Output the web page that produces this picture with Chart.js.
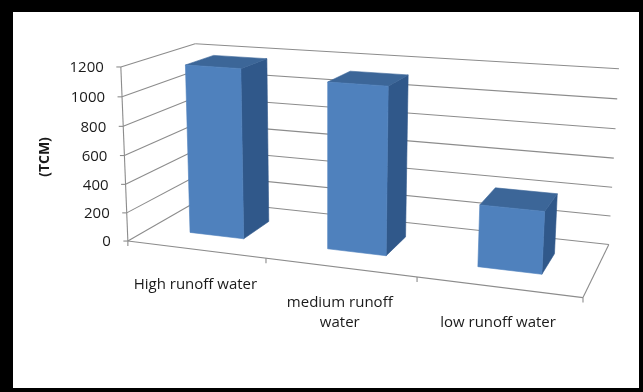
<!DOCTYPE html>
<html>
<head>
<meta charset="utf-8">
<script src="https://cdn.jsdelivr.net/npm/chart.js@4/dist/chart.umd.min.js"></script>
<style>
  html, body { margin: 0; padding: 0; background: #000; overflow: hidden; }
  #sheet { position: absolute; left: 13px; top: 12px; width: 626px; height: 376px; background: #fff; }
  #c { position: absolute; left: 0; top: 0; }
</style>
</head>
<body>
<div id="sheet"></div>
<canvas id="c" width="643" height="392"></canvas>
<script>
// Runoff volumes per runoff class (TCM)
const categories = [["High runoff water"], ["medium runoff", "water"], ["low runoff water"]];
const runoffTCM = [1180, 1130, 410];
const valueTicks = [0, 200, 400, 600, 800, 1000, 1200];
const axisTitle = "(TCM)";

// Perspective box: plot-box corners [U, W, V] (category, depth, value, each 0..1) -> screen px
const box = {
  anchors: [
    [[0, 0, 0], [128, 241]], [[0, 0, 1], [121, 66.5]], [[0, 1, 1], [195, 44]],
    [[1, 1, 1], [619, 69]], [[1, 1, 0], [609, 244]], [[1, 0, 0], [583, 297]],
    [[1 / 3, 0, 0], [266, 258]], [[2 / 3, 0, 0], [416.7, 278.3]]
  ],
  barDepth: [0.3, 0.7],
  barWidth: 0.4
};

// Least-squares camera matrix (DLT) from the anchor pairs
function solveCamera(pairs) {
  const n = 11;
  const M = Array.from({ length: n }, () => new Array(n + 1).fill(0));
  const add = (row, rhs) => {
    for (let i = 0; i < n; i++) {
      for (let j = 0; j < n; j++) M[i][j] += row[i] * row[j];
      M[i][n] += row[i] * rhs;
    }
  };
  for (const [[U, W, V], [x, y]] of pairs) {
    add([U, W, V, 1, 0, 0, 0, 0, -x * U, -x * W, -x * V], x);
    add([0, 0, 0, 0, U, W, V, 1, -y * U, -y * W, -y * V], y);
  }
  for (let c = 0; c < n; c++) {
    let p = c;
    for (let r = c + 1; r < n; r++) if (Math.abs(M[r][c]) > Math.abs(M[p][c])) p = r;
    [M[c], M[p]] = [M[p], M[c]];
    for (let r = 0; r < n; r++) {
      if (r === c) continue;
      const f = M[r][c] / M[c][c];
      for (let k = c; k <= n; k++) M[r][k] -= f * M[c][k];
    }
  }
  return M.map((row, i) => row[n] / row[i]);
}
const cam = solveCamera(box.anchors);
function proj(U, W, V) {
  const d = cam[8] * U + cam[9] * W + cam[10] * V + 1;
  return [
    (cam[0] * U + cam[1] * W + cam[2] * V + cam[3]) / d,
    (cam[4] * U + cam[5] * W + cam[6] * V + cam[7]) / d
  ];
}

function line(ctx, a, b) {
  ctx.beginPath();
  ctx.moveTo(a[0], a[1]);
  ctx.lineTo(b[0], b[1]);
  ctx.stroke();
}
function poly(ctx, pts, fill) {
  ctx.beginPath();
  pts.forEach((p, i) => (i ? ctx.lineTo(p[0], p[1]) : ctx.moveTo(p[0], p[1])));
  ctx.closePath();
  ctx.fillStyle = fill;
  ctx.fill();
  ctx.strokeStyle = fill;
  ctx.lineWidth = 0.6;
  ctx.stroke();
}

const FONT = '"Open Sans", "DejaVu Sans", sans-serif';

const perspective3d = {
  id: 'perspective3d',
  beforeDatasetsDraw(chart) {
    const { ctx, chartArea: a, scales: { y } } = chart;
    const vOf = (val) => (a.bottom - y.getPixelForValue(val)) / (a.bottom - a.top);
    ctx.save();
    ctx.strokeStyle = '#8c8c8c';
    ctx.lineWidth = 1.1;
    // walls: left side and back gridlines
    for (const t of valueTicks) {
      const V = vOf(t);
      line(ctx, proj(0, 0, V), proj(0, 1, V));
      line(ctx, proj(0, 1, V), proj(1, 1, V));
    }
    // floor front (category axis) and right edge
    line(ctx, proj(0, 0, 0), proj(1, 0, 0));
    line(ctx, proj(1, 0, 0), proj(1, 1, 0));
    // value axis with tick marks
    line(ctx, proj(0, 0, 0), proj(0, 0, 1));
    for (const t of valueTicks) {
      const p = proj(0, 0, vOf(t));
      line(ctx, [p[0] - 4.5, p[1]], p);
    }
    // category tick marks
    for (let k = 0; k <= categories.length; k++) {
      const p = proj(k / categories.length, 0, 0);
      line(ctx, p, [p[0], p[1] + 5]);
    }
    // value tick labels
    ctx.fillStyle = '#1a1a1a';
    ctx.font = '15px ' + FONT;
    ctx.textAlign = 'right';
    ctx.textBaseline = 'middle';
    for (const t of valueTicks) {
      const p = proj(0, 0, vOf(t));
      ctx.fillText(String(t), p[0] - 17, p[1] + 1);
    }
    // axis title
    ctx.save();
    ctx.translate(45, 157);
    ctx.rotate(-Math.PI / 2);
    ctx.textAlign = 'center';
    ctx.font = 'bold 14px ' + FONT;
    ctx.fillText(axisTitle, 0, 0);
    ctx.restore();
    ctx.restore();
  },
  afterDatasetsDraw(chart) {
    const { ctx, chartArea: a, scales: { x, y } } = chart;
    const vOf = (val) => (a.bottom - y.getPixelForValue(val)) / (a.bottom - a.top);
    const uOf = (i) => (x.getPixelForValue(i) - a.left) / (a.right - a.left);
    const half = box.barWidth / categories.length / 2;
    const [w0, w1] = box.barDepth;
    ctx.save();
    runoffTCM.forEach((val, i) => {
      const uc = uOf(i), u0 = uc - half, u1 = uc + half, V = vOf(val);
      // right side, top, front
      poly(ctx, [proj(u1, w0, 0), proj(u1, w1, 0), proj(u1, w1, V), proj(u1, w0, V)], '#30588a');
      poly(ctx, [proj(u0, w0, V), proj(u1, w0, V), proj(u1, w1, V), proj(u0, w1, V)], '#3c6698');
      poly(ctx, [proj(u0, w0, 0), proj(u1, w0, 0), proj(u1, w0, V), proj(u0, w0, V)], '#4f81bd');
    });
    // category labels under the front edge
    ctx.fillStyle = '#1a1a1a';
    ctx.font = '15px ' + FONT;
    ctx.textAlign = 'center';
    ctx.textBaseline = 'alphabetic';
    categories.forEach((lines, i) => {
      const p = proj(uOf(i), 0, 0);
      lines.forEach((s, k) => ctx.fillText(s, p[0], p[1] + 40 + k * 20));
    });
    ctx.restore();
  }
};

new Chart(document.getElementById('c'), {
  type: 'bar',
  data: {
    labels: categories,
    datasets: [{ data: runoffTCM, backgroundColor: 'rgba(0,0,0,0)', borderWidth: 0 }]
  },
  options: {
    responsive: false,
    animation: false,
    layout: { padding: { left: 128, right: 60, top: 66.5, bottom: 151 } },
    plugins: { legend: { display: false }, tooltip: { enabled: false } },
    scales: {
      x: { display: false },
      y: { display: false, min: 0, max: 1200, ticks: { stepSize: 200 } }
    }
  },
  plugins: [perspective3d]
});
</script>
</body>
</html>
